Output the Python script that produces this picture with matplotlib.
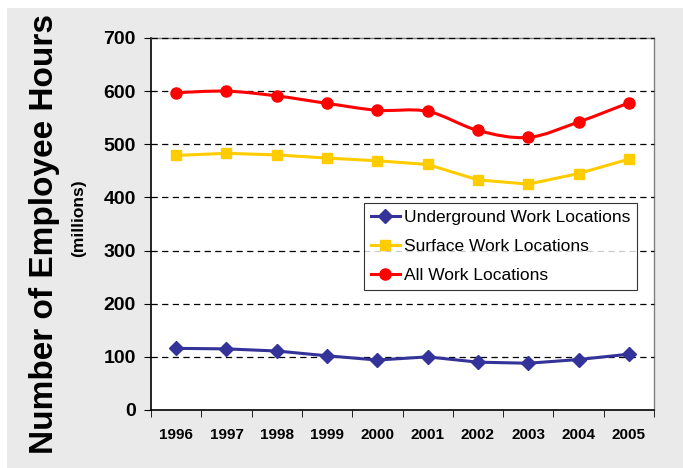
import numpy as np
import matplotlib as mpl
mpl.use('Agg')
import matplotlib.pyplot as plt
from matplotlib.path import Path
from matplotlib.patches import PathPatch, Rectangle
from matplotlib.lines import Line2D

plt.rcParams['font.family'] = ['Liberation Sans', 'DejaVu Sans']

years = ['1996', '1997', '1998', '1999', '2000', '2001', '2002', '2003', '2004', '2005']
underground = [116, 115, 111, 102, 94, 100, 90, 88, 95, 105]
surface = [479, 483, 480, 474, 469, 462, 433, 425, 445, 472]
all_locations = [597, 600, 591, 577, 564, 562, 526, 513, 542, 578]
y_ticks = [0, 100, 200, 300, 400, 500, 600, 700]

blue = '#333399'
yellow = '#FFCC00'
red = '#FF0000'


def smooth_path(xs, ys):
    # catmull-rom style bezier, like excel's smoothed line
    pts = np.column_stack([xs, ys]).astype(float)
    verts = [pts[0]]
    codes = [Path.MOVETO]
    n = len(pts)
    for i in range(n - 1):
        p0 = pts[max(i - 1, 0)]
        p1 = pts[i]
        p2 = pts[i + 1]
        p3 = pts[min(i + 2, n - 1)]
        c1 = p1 + (p2 - p0) / 6.0
        c2 = p2 - (p3 - p1) / 6.0
        verts += [c1, c2, p2]
        codes += [Path.CURVE4] * 3
    return Path(verts, codes)


fig = plt.figure(figsize=(6.83, 4.68), dpi=100, facecolor='white')
fig.patches.append(Rectangle((7 / 683, 0), 1, 1 - 8 / 468, transform=fig.transFigure,
                             facecolor='#EAEAEA', edgecolor='none', zorder=-10))
ax = fig.add_axes([151 / 683, 58 / 468, 503 / 683, 372 / 468])
ax.set_facecolor('white')

x = np.arange(len(years))
ax.plot(x, underground, color=blue, lw=2.2, marker='D', ms=7, zorder=3)
ax.plot(x, surface, color=yellow, lw=2.2, marker='s', ms=7.5, zorder=3)
ax.add_patch(PathPatch(smooth_path(x, all_locations), facecolor='none',
                       edgecolor=red, lw=2.2, zorder=3))
ax.plot(x, all_locations, color=red, lw=0, marker='o', ms=8, zorder=4)

ax.set_xlim(-0.5, len(years) - 0.5)
ax.set_ylim(0, 700)
ax.set_yticks(y_ticks)
ax.set_yticklabels([str(v) for v in y_ticks], fontsize=14, fontweight='bold')
ax.set_xticks(x)
ax.set_xticklabels(years, fontsize=11, fontweight='bold')
ax.set_xticks(np.arange(-0.5, len(years)), minor=True)
ax.tick_params(axis='x', which='major', length=0, pad=13)
ax.tick_params(axis='x', which='minor', length=5, direction='out', color='black')
ax.tick_params(axis='y', length=5, direction='out', pad=6, color='black')

for s in ['top', 'right']:
    ax.spines[s].set_color('#808080')
    ax.spines[s].set_linewidth(1)
for s in ['left', 'bottom']:
    ax.spines[s].set_color('black')
    ax.spines[s].set_linewidth(1.2)

for v in y_ticks[1:]:
    ax.axhline(v, color='black', lw=0.9, ls=(0, (5, 3.5)), zorder=2.6, clip_on=False)

handles = [
    Line2D([], [], color=blue, lw=2.2, marker='D', ms=7),
    Line2D([], [], color=yellow, lw=2.2, marker='s', ms=7.5),
    Line2D([], [], color=red, lw=2.2, marker='o', ms=8),
]
labels = ['Underground Work Locations', 'Surface Work Locations', 'All Work Locations']
leg = ax.legend(handles, labels, loc='upper left', bbox_to_anchor=(0.423, 0.556),
                fontsize=12.5, frameon=True, fancybox=False, edgecolor='black',
                handlelength=1.7, handletextpad=0.2, labelspacing=0.78,
                borderpad=0.4, borderaxespad=0)
leg.get_frame().set_linewidth(0.8)

fig.text(45 / 683, 0.5, 'Number of Employee Hours', rotation=90, fontsize=24,
         fontweight='bold', ha='center', va='center')
fig.text(79 / 683, 1 - 218 / 468, '(millions)', rotation=90, fontsize=12.5,
         fontweight='bold', ha='center', va='center')

fig.savefig('out.png', dpi=100, facecolor=fig.get_facecolor())
